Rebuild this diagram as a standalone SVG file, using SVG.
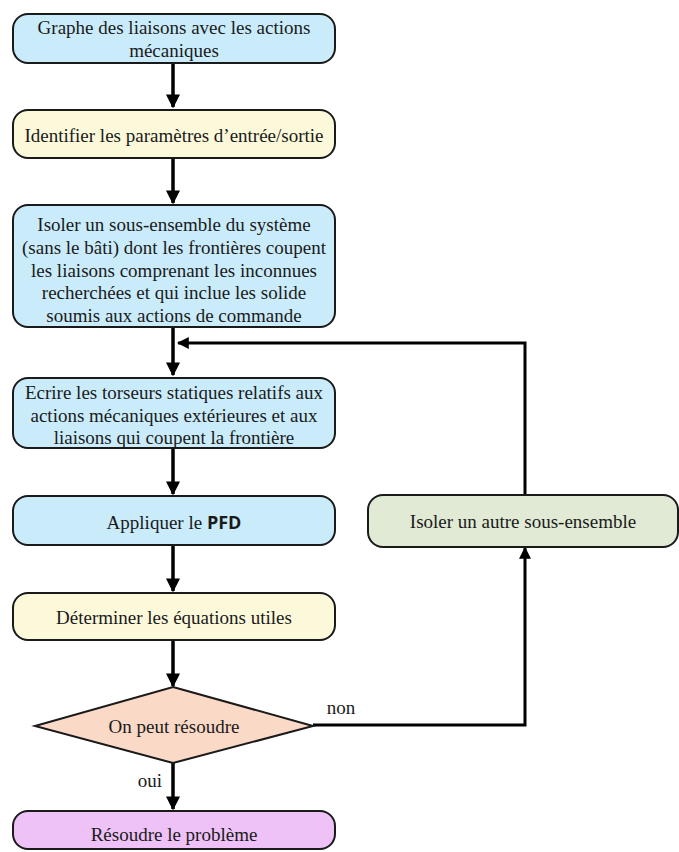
<svg xmlns="http://www.w3.org/2000/svg" width="679" height="852" viewBox="0 0 679 852">
<defs>
<style>
.box{stroke:#1a1a1a;stroke-width:2}
.t{font-family:'Liberation Serif','DejaVu Serif','Times New Roman',serif;font-size:19px;fill:#1a1a1a;text-anchor:middle;dominant-baseline:central}
.c{fill:none;stroke:#000;stroke-width:3.5}
.c2{fill:none;stroke:#000;stroke-width:3}
.blue{fill:#caecfa}.yellow{fill:#fcf9da}.green{fill:#e1ead5}.peach{fill:#fbd9c7}.violet{fill:#eec2f6}
</style>
<marker id="ah" viewBox="0 0 10 10" refX="9" refY="5" markerWidth="4" markerHeight="4" orient="auto" markerUnits="strokeWidth">
<path d="M0,0 L10,5 L0,10 Z" fill="#000"/>
</marker>
</defs>
<rect width="679" height="852" fill="#fff"/>
<g id="connectors">
<line class="c" x1="173" y1="63" x2="173" y2="107" marker-end="url(#ah)"/>
<line class="c" x1="173" y1="158" x2="173" y2="203" marker-end="url(#ah)"/>
<line class="c" x1="173" y1="327" x2="173" y2="375" marker-end="url(#ah)"/>
<polyline class="c2" points="525,495 525,343 178,343" marker-end="url(#ah)"/>
<line class="c" x1="173" y1="448" x2="173" y2="494" marker-end="url(#ah)"/>
<line class="c" x1="173" y1="545" x2="173" y2="591" marker-end="url(#ah)"/>
<line class="c" x1="173" y1="640" x2="173" y2="686" marker-end="url(#ah)"/>
<polyline class="c2" points="313,725 525,725 525,548" marker-end="url(#ah)"/>
<line class="c" x1="173" y1="763" x2="173" y2="809" marker-end="url(#ah)"/>
<text class="t" x="341" y="707">non</text>
<text class="t" x="150" y="780">oui</text>
</g>
<g id="n1">
<rect class="box blue" x="13" y="14" width="322" height="49" rx="15"/>
<text class="t" x="174" y="27">Graphe des liaisons avec les actions</text>
<text class="t" x="174" y="50">mécaniques</text>
</g>
<g id="n2">
<rect class="box yellow" x="13" y="110" width="322" height="48" rx="15"/>
<text class="t" x="174" y="135">Identifier les paramètres d’entrée/sortie</text>
</g>
<g id="n3">
<rect class="box blue" x="13" y="205" width="322" height="122" rx="15"/>
<text class="t" x="174" y="224">Isoler un sous-ensemble du système</text>
<text class="t" x="174" y="247">(sans le bâti) dont les frontières coupent</text>
<text class="t" x="174" y="270">les liaisons comprenant les inconnues</text>
<text class="t" x="174" y="292">recherchées et qui inclue les solide</text>
<text class="t" x="174" y="315">soumis aux actions de commande</text>
</g>
<g id="n4">
<rect class="box blue" x="13" y="378" width="322" height="70" rx="15"/>
<text class="t" x="174" y="392">Ecrire les torseurs statiques relatifs aux</text>
<text class="t" x="174" y="415">actions mécaniques extérieures et aux</text>
<text class="t" x="174" y="437">liaisons qui coupent la frontière</text>
</g>
<g id="n5">
<rect class="box blue" x="13" y="496" width="322" height="49" rx="15"/>
<text class="t" x="174" y="522">Appliquer le <tspan font-family="'Open Sans','DejaVu Sans',sans-serif" font-weight="bold" font-size="18">PFD</tspan></text>
</g>
<g id="n6">
<rect class="box yellow" x="13" y="593" width="322" height="47" rx="15"/>
<text class="t" x="174" y="617">Déterminer les équations utiles</text>
</g>
<g id="n7">
<polygon class="box peach" points="173,687 313,726 173,763 35,726"/>
<text class="t" x="174" y="726">On peut résoudre</text>
</g>
<g id="n8">
<rect class="box violet" x="13" y="811" width="322" height="38" rx="15"/>
<text class="t" x="174" y="834">Résoudre le problème</text>
</g>
<g id="n9">
<rect class="box green" x="368" y="495" width="310" height="52" rx="15"/>
<text class="t" x="523" y="521">Isoler un autre sous-ensemble</text>
</g>
</svg>
